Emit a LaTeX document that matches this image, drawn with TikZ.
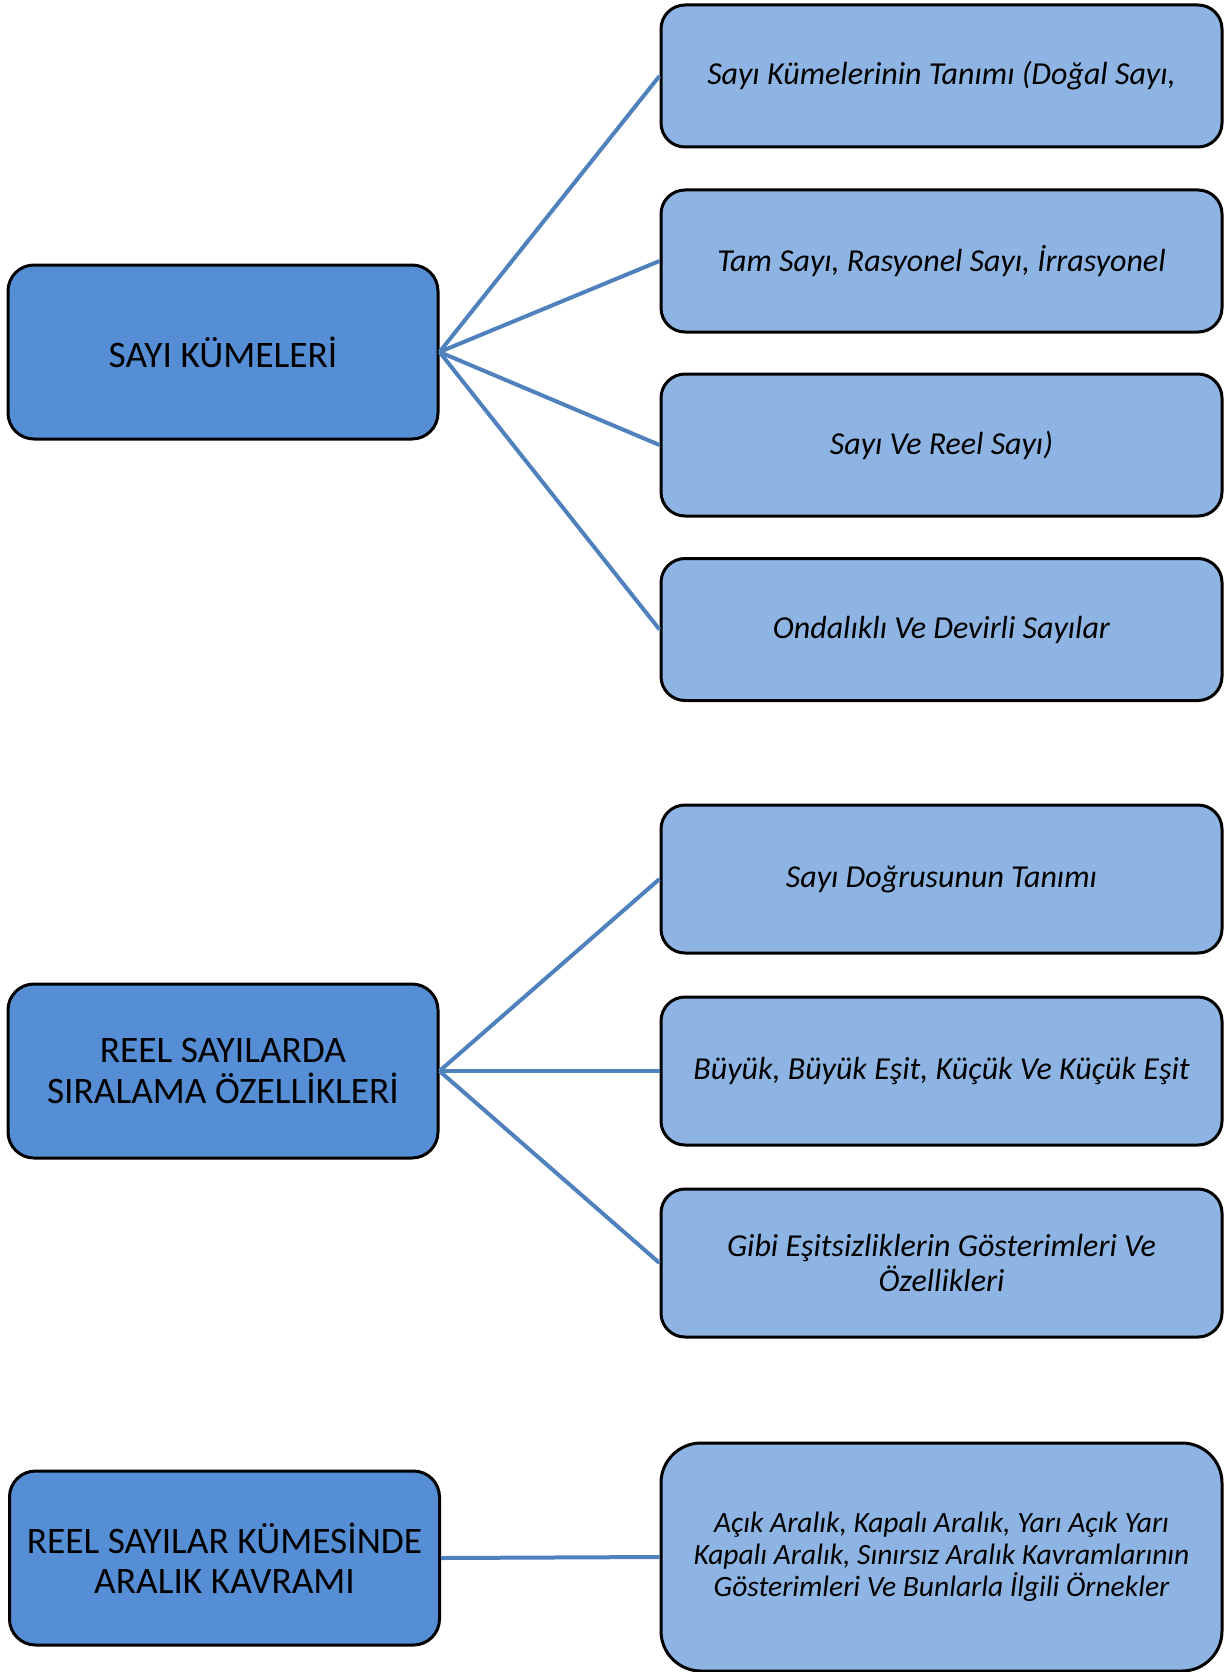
\documentclass[tikz,border=0pt]{standalone}
\usepackage{fontspec}
\setmainfont{Carlito}
\definecolor{TopicBlue}{HTML}{558ED5}
\definecolor{DetailBlue}{HTML}{8EB4E3}
\definecolor{LinkBlue}{HTML}{4F81BD}

\tikzset{
  topic/.style={draw=black, line width=3pt, fill=TopicBlue, rounded corners=26pt,
    minimum width=430pt, minimum height=174pt, align=center, inner sep=0pt,
    font=\fontsize{37.4}{40.5}\selectfont},
  detail/.style={draw=black, line width=3pt, fill=DetailBlue, rounded corners=24pt,
    minimum width=561pt, minimum height=142pt, align=center, inner sep=0pt,
    font=\fontsize{32}{35}\selectfont\itshape},
  link/.style={LinkBlue, line width=4pt}
}

\begin{document}
\begin{tikzpicture}[x=1pt, y=1pt]
  \useasboundingbox (0,0) rectangle (1229,-1672);

  % first group
  \node[topic] (sets) at (223,-352) {SAYI KÜMELERİ};
  \node[detail] (setsA) at (941.5,-76) {Sayı Kümelerinin Tanımı (Doğal Sayı,};
  \node[detail] (setsB) at (941.5,-261) {Tam Sayı, Rasyonel Sayı, İrrasyonel};
  \node[detail] (setsC) at (941.5,-445) {Sayı Ve Reel Sayı)};
  \node[detail] (setsD) at (941.5,-629.5) {Ondalıklı Ve Devirli Sayılar};
  \foreach \n in {setsA,setsB,setsC,setsD}
    \draw[link] (sets.east) -- (\n.west);

  % second group
  \node[topic] (order) at (223,-1071) {REEL SAYILARDA\\SIRALAMA ÖZELLİKLERİ};
  \node[detail, minimum height=148pt] (orderA) at (941.5,-879) {Sayı Doğrusunun Tanımı};
  \node[detail, minimum height=148pt] (orderB) at (941.5,-1071) {Büyük, Büyük Eşit, Küçük Ve Küçük Eşit};
  \node[detail, minimum height=148pt] (orderC) at (941.5,-1263)
    {Gibi Eşitsizliklerin Gösterimleri Ve\\Özellikleri};
  \foreach \n in {orderA,orderB,orderC}
    \draw[link] (order.east) -- (\n.west);

  % third group
  \node[topic] (interval) at (224.5,-1558) {REEL SAYILAR KÜMESİNDE\\ARALIK KAVRAMI};
  \node[detail, minimum height=228pt, rounded corners=40pt,
    font=\fontsize{29.5}{32}\selectfont\itshape] (intervalA) at (941.5,-1557)
    {Açık Aralık, Kapalı Aralık, Yarı Açık Yarı\\
     Kapalı Aralık, Sınırsız Aralık Kavramlarının\\
     Gösterimleri Ve Bunlarla İlgili Örnekler};
  \draw[link] (interval.east) -- (intervalA.west);
\end{tikzpicture}
\end{document}
